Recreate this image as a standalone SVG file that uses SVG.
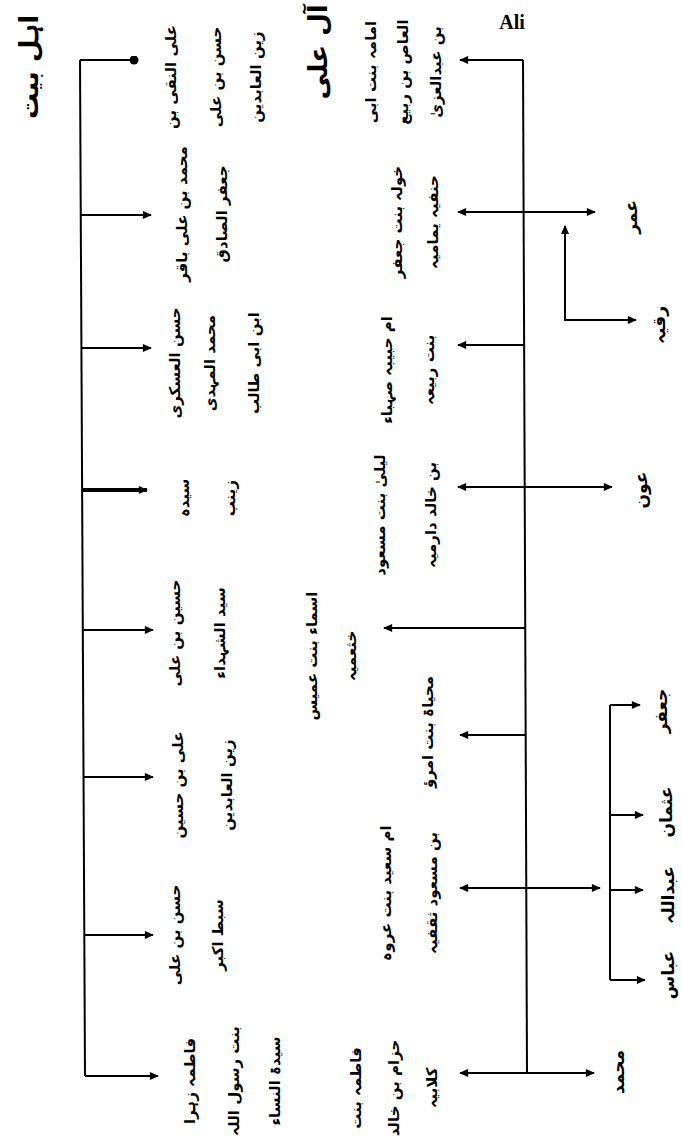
<svg xmlns="http://www.w3.org/2000/svg" width="682" height="1144" viewBox="0 0 682 1144">
<style>
.t{font-family:"DejaVu Sans",sans-serif;font-size:15px;font-weight:bold;fill:#000;text-anchor:middle;dominant-baseline:central}
.h{font-size:26px}
.s{font-size:17px}
.c{stroke:#000;stroke-width:2;fill:none}
.k{stroke-width:4}
</style>
<defs>
<marker id="ah" viewBox="0 0 10 10" refX="9" refY="5" markerWidth="10" markerHeight="9" markerUnits="userSpaceOnUse" orient="auto-start-reverse"><path d="M0,0.5 L10,5 L0,9.5 z" fill="#000"/></marker>
<marker id="dot" viewBox="0 0 10 10" refX="5" refY="5" markerWidth="9" markerHeight="9" markerUnits="userSpaceOnUse"><circle cx="5" cy="5" r="5" fill="#000"/></marker>
</defs>
<g id="connectors">
<path class="c" d="M80,60 L85,1076"/>
<path class="c" d="M80,60 H134" marker-end="url(#dot)"/>
<path class="c" d="M80.8,215 H151" marker-end="url(#ah)"/>
<path class="c" d="M81.4,348 H151" marker-end="url(#ah)"/>
<path class="c k" d="M82.1,490 H147" marker-end="url(#ah)"/>
<path class="c" d="M82.8,630 H153" marker-end="url(#ah)"/>
<path class="c" d="M83.5,777 H153" marker-end="url(#ah)"/>
<path class="c" d="M84.3,935 H153" marker-end="url(#ah)"/>
<path class="c" d="M85,1076 H158" marker-end="url(#ah)"/>
<path class="c" d="M523,60 L527,1073"/>
<path class="c" d="M523,60 H460" marker-end="url(#ah)"/>
<path class="c" d="M458,212 H595" marker-start="url(#ah)" marker-end="url(#ah)"/>
<path class="c" d="M565,226 V320 H636" marker-start="url(#ah)" marker-end="url(#ah)"/>
<path class="c" d="M524,345 H458" marker-end="url(#ah)"/>
<path class="c" d="M458,487 H612" marker-start="url(#ah)" marker-end="url(#ah)"/>
<path class="c" d="M525,628 H384" marker-end="url(#ah)"/>
<path class="c" d="M526,735 H460" marker-end="url(#ah)"/>
<path class="c" d="M460,888 H600" marker-start="url(#ah)" marker-end="url(#ah)"/>
<path class="c" d="M610,705 V980"/>
<path class="c" d="M610,705 H640" marker-end="url(#ah)"/>
<path class="c" d="M610,815 H643" marker-end="url(#ah)"/>
<path class="c" d="M610,890 H643" marker-end="url(#ah)"/>
<path class="c" d="M610,980 H645" marker-end="url(#ah)"/>
<path class="c" d="M527,1073 H460" marker-end="url(#ah)"/>
<path class="c" d="M527,1073 H594" marker-end="url(#ah)"/>
</g>
<g id="header-ahlebait"><text class="t h" transform="translate(29,67) rotate(-90)">اہل بیت</text></g>
<g id="header-aaleali"><text class="t h" transform="translate(318,52) rotate(-90)">آل علی</text></g>
<g id="ali"><text x="512" y="22" style="font-family:'Liberation Serif',serif;font-size:20px;font-weight:bold;text-anchor:middle;dominant-baseline:central">Ali</text></g>
<g id="l1"><text class="t" transform="translate(171,77) rotate(-90)">علی النقی بن</text><text class="t" transform="translate(216,77) rotate(-90)">حسن بن علی</text><text class="t" transform="translate(256,77) rotate(-90)">زین العابدین</text></g>
<g id="l2"><text class="t" transform="translate(182,214) rotate(-90)">محمد بن علی باقر</text><text class="t" transform="translate(222,214) rotate(-90)">جعفر الصادق</text></g>
<g id="l3"><text class="t" transform="translate(175,363) rotate(-90)">حسن العسکری</text><text class="t" transform="translate(210,363) rotate(-90)">محمد المہدی</text><text class="t" transform="translate(254,363) rotate(-90)">ابن ابی طالب</text></g>
<g id="l4"><text class="t" transform="translate(184,498) rotate(-90)">سیدہ</text><text class="t" transform="translate(230,498) rotate(-90)">زینب</text></g>
<g id="l5"><text class="t" transform="translate(175,633) rotate(-90)">حسین بن علی</text><text class="t" transform="translate(220,633) rotate(-90)">سید الشہداء</text></g>
<g id="l6"><text class="t" transform="translate(178,785) rotate(-90)">علی بن حسین</text><text class="t" transform="translate(227,785) rotate(-90)">زین العابدین</text></g>
<g id="l7"><text class="t" transform="translate(175,935) rotate(-90)">حسن بن علی</text><text class="t" transform="translate(218,935) rotate(-90)">سبط اکبر</text></g>
<g id="l8"><text class="t" transform="translate(190,1081) rotate(-90)">فاطمہ زہرا</text><text class="t" transform="translate(234,1081) rotate(-90)">بنت رسول اللہ</text><text class="t" transform="translate(275,1081) rotate(-90)">سیدۃ النساء</text></g>
<g id="r1"><text class="t" transform="translate(371,72) rotate(-90)">امامہ بنت ابی</text><text class="t" transform="translate(403,72) rotate(-90)">العاص بن ربیع</text><text class="t" transform="translate(436,72) rotate(-90)">بن عبدالعزیٰ</text></g>
<g id="r2"><text class="t" transform="translate(397,222) rotate(-90)">خولہ بنت جعفر</text><text class="t" transform="translate(433,222) rotate(-90)">حنفیہ یمامیہ</text></g>
<g id="r3"><text class="t" transform="translate(387,370) rotate(-90)">ام حبیبہ صہباء</text><text class="t" transform="translate(429,370) rotate(-90)">بنت ربیعہ</text></g>
<g id="r4"><text class="t" transform="translate(380,515) rotate(-90)">لیلیٰ بنت مسعود</text><text class="t" transform="translate(431,515) rotate(-90)">بن خالد دارمیہ</text></g>
<g id="r5"><text class="t" transform="translate(312,656) rotate(-90)">اسماء بنت عمیس</text><text class="t" transform="translate(351,656) rotate(-90)">خثعمیہ</text></g>
<g id="r6"><text class="t" transform="translate(428,732) rotate(-90)">محیاۃ بنت امرؤ</text></g>
<g id="r7"><text class="t" transform="translate(386,893) rotate(-90)">ام سعید بنت عروہ</text><text class="t" transform="translate(432,893) rotate(-90)">بن مسعود ثقفیہ</text></g>
<g id="r8"><text class="t" transform="translate(356,1088) rotate(-90)">فاطمہ بنت</text><text class="t" transform="translate(394,1088) rotate(-90)">حزام بن خالد</text><text class="t" transform="translate(432,1088) rotate(-90)">کلابیہ</text></g>
<g id="c1"><text class="t s" transform="translate(631,217) rotate(-90)">عمر</text></g>
<g id="c2"><text class="t s" transform="translate(659,325) rotate(-90)">رقیہ</text></g>
<g id="c3"><text class="t s" transform="translate(641,490) rotate(-90)">عون</text></g>
<g id="c4"><text class="t s" transform="translate(661,711) rotate(-90)">جعفر</text></g>
<g id="c5"><text class="t s" transform="translate(666,812) rotate(-90)">عثمان</text></g>
<g id="c6"><text class="t s" transform="translate(668,895) rotate(-90)">عبداللہ</text></g>
<g id="c7"><text class="t s" transform="translate(668,975) rotate(-90)">عباس</text></g>
<g id="c8"><text class="t s" transform="translate(618,1072) rotate(-90)">محمد</text></g>
</svg>
